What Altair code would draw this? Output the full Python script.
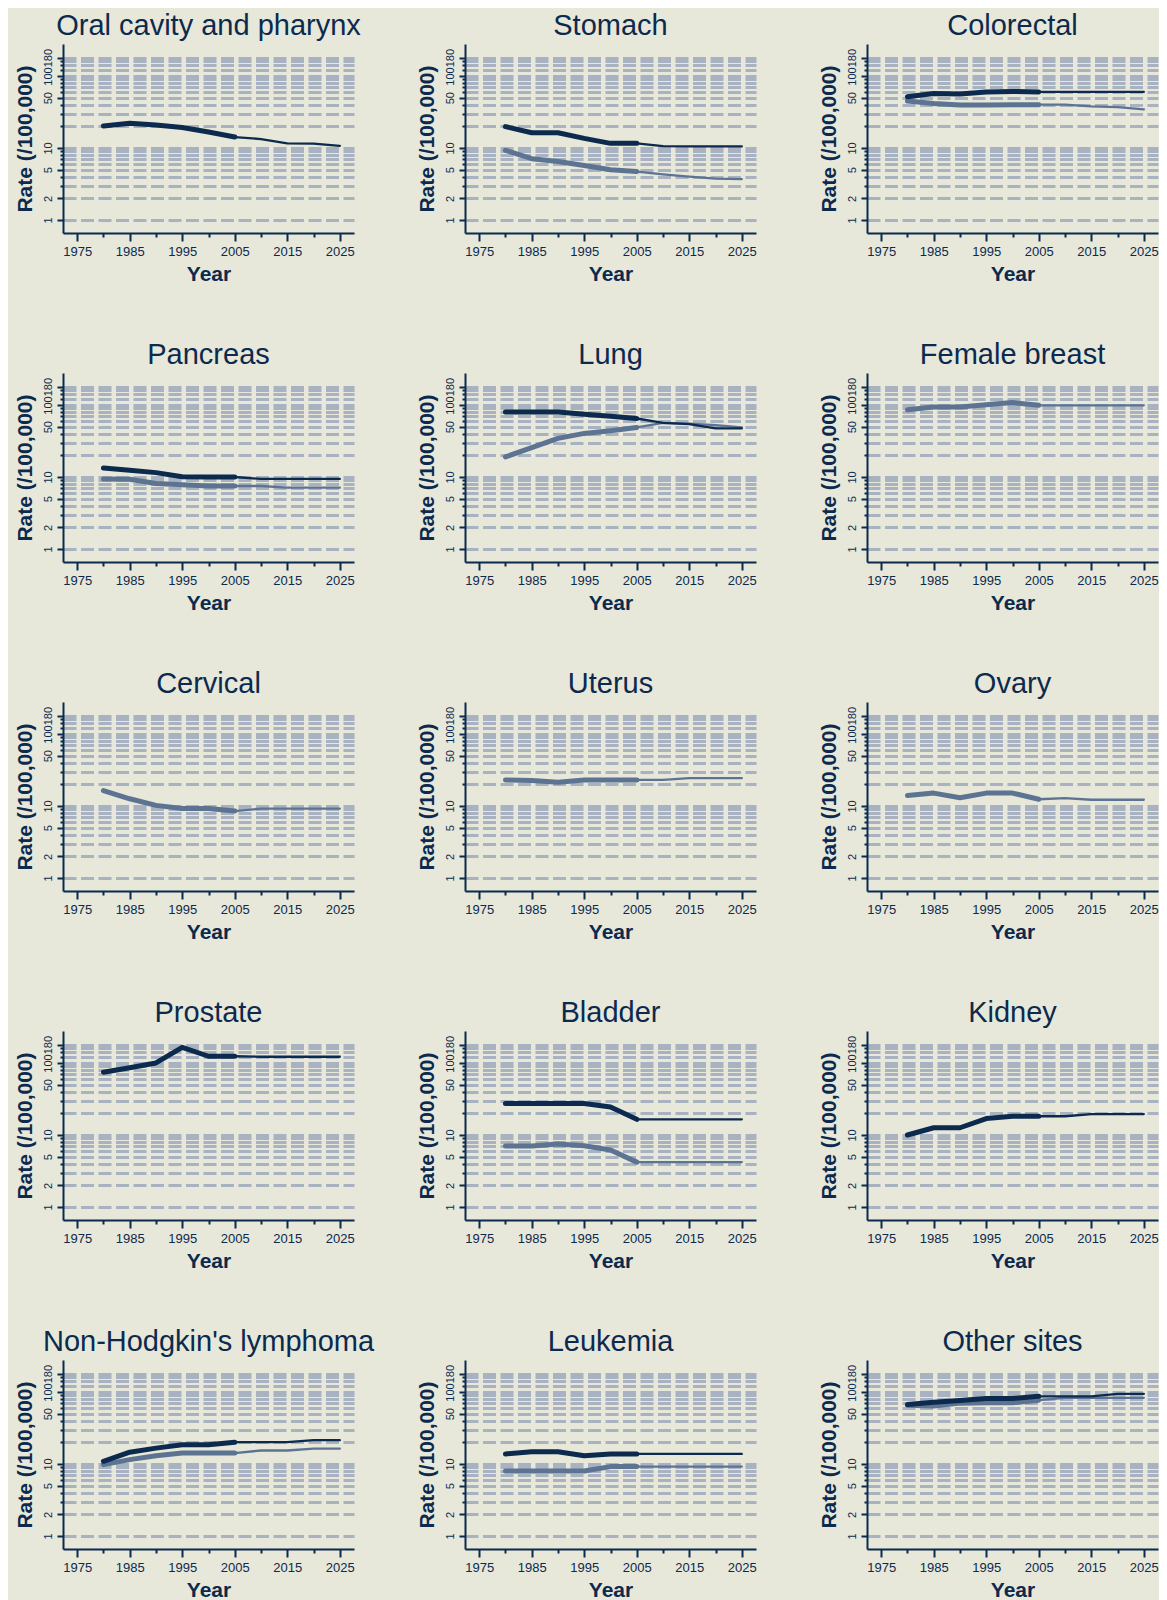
import altair as alt
import pandas as pd

years = [1980, 1985, 1990, 1995, 2000, 2005, 2010, 2015, 2020, 2025]
last_observed = 2005

sites = [
    "Oral cavity and pharynx", "Stomach", "Colorectal",
    "Pancreas", "Lung", "Female breast",
    "Cervical", "Uterus", "Ovary",
    "Prostate", "Bladder", "Kidney",
    "Non-Hodgkin's lymphoma", "Leukemia", "Other sites",
]

male = {
    "Oral cavity and pharynx": [20.2, 22.0, 20.9, 19.2, 16.7, 14.2, 13.3, 11.6, 11.5, 10.7],
    "Stomach": [19.8, 16.3, 16.3, 13.6, 11.6, 11.6, 10.6, 10.5, 10.5, 10.5],
    "Colorectal": [51.4, 57.0, 56.0, 60.0, 61.0, 60.0, 60.0, 60.0, 60.0, 60.0],
    "Pancreas": [13.3, 12.4, 11.5, 10.1, 10.0, 10.0, 9.4, 9.4, 9.4, 9.4],
    "Lung": [80.0, 80.0, 80.0, 74.5, 69.8, 64.9, 56.5, 54.2, 47.2, 47.2],
    "Prostate": [74.5, 86.0, 100.0, 165.0, 124.0, 124.0, 122.0, 122.0, 122.0, 122.0],
    "Bladder": [27.3, 27.3, 27.3, 27.3, 24.5, 16.5, 16.5, 16.5, 16.5, 16.5],
    "Kidney": [10.0, 12.6, 12.6, 16.9, 18.2, 18.2, 18.2, 19.5, 19.5, 19.5],
    "Non-Hodgkin's lymphoma": [10.9, 14.6, 16.6, 18.5, 18.5, 20.1, 20.1, 20.1, 21.4, 21.4],
    "Leukemia": [13.8, 14.8, 14.8, 13.0, 13.8, 13.8, 13.8, 13.8, 13.8, 13.8],
    "Other sites": [67.0, 72.0, 76.0, 81.0, 81.0, 87.0, 87.0, 87.0, 94.0, 94.0],
}

female = {
    "Stomach": [9.3, 7.1, 6.5, 5.7, 5.0, 4.7, 4.3, 4.0, 3.75, 3.7],
    "Colorectal": [44.8, 41.6, 39.5, 39.5, 40.0, 40.0, 40.0, 37.8, 37.0, 34.4],
    "Pancreas": [9.4, 9.3, 8.1, 7.8, 7.5, 7.5, 7.5, 7.1, 7.1, 7.1],
    "Lung": [19.0, 25.6, 34.4, 40.3, 43.9, 48.8, 56.5, 55.0, 52.5, 48.8],
    "Female breast": [86.0, 94.0, 94.0, 101.0, 108.0, 99.0, 99.0, 99.0, 99.0, 99.0],
    "Cervical": [16.4, 12.6, 10.2, 9.2, 9.2, 8.5, 9.2, 9.2, 9.2, 9.2],
    "Uterus": [23.0, 22.6, 21.4, 23.0, 23.0, 23.0, 23.0, 24.3, 24.3, 24.3],
    "Ovary": [14.0, 15.1, 13.0, 15.1, 15.1, 12.4, 12.9, 12.2, 12.2, 12.2],
    "Bladder": [7.05, 7.05, 7.5, 7.1, 6.2, 4.2, 4.2, 4.2, 4.2, 4.2],
    "Non-Hodgkin's lymphoma": [9.8, 11.5, 13.0, 14.2, 14.2, 14.2, 15.4, 15.4, 16.3, 16.3],
    "Leukemia": [8.0, 8.0, 8.0, 8.0, 9.2, 9.2, 9.2, 9.2, 9.2, 9.2],
    "Other sites": [65.6, 63.7, 70.0, 70.7, 70.7, 77.0, 83.0, 83.0, 83.0, 83.0],
}

y_grid = [1, 2, 3, 4, 5, 6, 7, 8, 9, 10, 20, 30, 40, 50, 60, 70, 80, 90, 100, 120, 140, 160, 180]
y_labels = [1, 2, 5, 10, 50, 100, 180]
x_ticks = [1975, 1980, 1985, 1990, 1995, 2000, 2005, 2010, 2015, 2020, 2025]
x_labels = [1975, 1985, 1995, 2005, 2015, 2025]

navy = "#0b2a4d"
grey = "#5c7492"
bg = "#e7e7da"
gridc = "#a8b2c1"
FONT = "Liberation Sans"

rows = []
for s in sites:
    for sex, d in (("Female", female), ("Male", male)):
        if s in d:
            for yr, v in zip(years, d[s]):
                if yr <= last_observed:
                    rows.append(dict(site=s, sex=sex, year=yr, rate=v, phase="observed"))
                if yr >= last_observed:
                    rows.append(dict(site=s, sex=sex, year=yr, rate=v, phase="projected"))
df = pd.DataFrame(rows)

ylab_test = f"indexof({y_labels}, datum.value) >= 0"
xlab_test = f"indexof({x_labels}, datum.value) >= 0"

x_enc = alt.X(
    "year:Q",
    scale=alt.Scale(domain=[1972.3, 2027.7], nice=False, zero=False),
    axis=alt.Axis(
        title="Year", values=x_ticks, grid=False,
        labelExpr=f"{xlab_test} ? format(datum.value, 'd') : ''",
        tickSize={"condition": {"test": xlab_test, "value": 8}, "value": 4},
        labelPadding=4, titlePadding=5, labelFlush=False, labelFontSize=13,
    ),
)
y_enc = alt.Y(
    "rate:Q",
    scale=alt.Scale(type="log", domain=[0.66, 278], nice=False),
    axis=alt.Axis(
        title="Rate (/100,000)", values=y_grid, grid=True,
        labelExpr=f"{ylab_test} ? format(datum.value, 'd') : ''",
        tickSize={"condition": {"test": ylab_test, "value": 6}, "value": 3},
        labelAngle=270, labelAlign="center", labelBaseline="bottom",
        labelPadding=4, titlePadding=7, labelFlush=False, labelOverlap=False,
        labelFontSize=11,
        gridColor=gridc, gridWidth=3, gridDash=[13, 4.5],
    ),
)


def panel(site):
    sub = df[df.site == site]
    layers = []
    for sex, col in (("Female", grey), ("Male", navy)):
        part = sub[sub.sex == sex]
        if len(part) == 0:
            continue
        layers.append(
            alt.Chart(part)
            .mark_line(color=col, strokeCap="round", strokeJoin="round")
            .encode(
                x=x_enc,
                y=y_enc,
                detail="phase:N",
                strokeWidth=alt.StrokeWidth(
                    "phase:N",
                    scale=alt.Scale(domain=["observed", "projected"], range=[5, 2.3]),
                    legend=None,
                ),
            )
        )
    return alt.layer(*layers).properties(
        width=291, height=189,
        title=alt.TitleParams(site, frame="group", anchor="middle",
                              baseline="alphabetic", offset=-20),
    )


chart = alt.concat(
    *[panel(s) for s in sites], columns=3, bounds="flush",
    spacing={"row": 140, "column": 111},
)
chart = (
    chart.configure(background=bg, padding={"left": 5, "top": 4, "right": 0, "bottom": 0})
    .configure_view(stroke=None)
    .configure_title(font=FONT, fontSize=29, fontWeight="normal", color=navy)
    .configure_axis(
        labelFont=FONT, labelColor=navy,
        titleFont=FONT, titleFontSize=21, titleFontWeight="bold", titleColor=navy,
        domainColor=navy, domainWidth=2, tickColor=navy, tickWidth=2,
    )
)

chart.save("out.html", embed_options={"renderer": "svg", "actions": False})
